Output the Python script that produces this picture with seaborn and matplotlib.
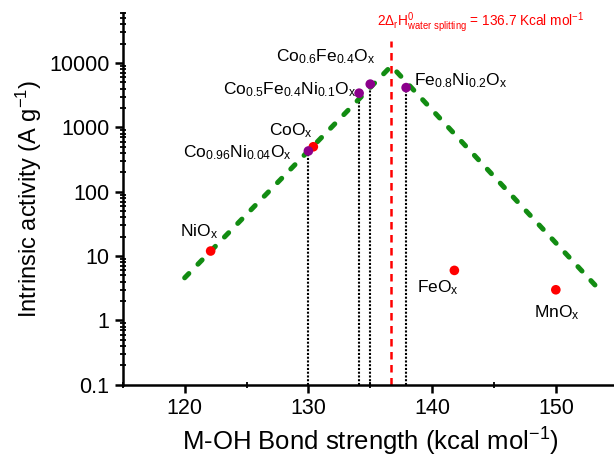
import numpy as np
import pandas as pd
import seaborn as sns
import matplotlib
matplotlib.use("Agg")
import matplotlib.pyplot as plt

# catalysts: M-OH bond strength (kcal/mol) vs intrinsic activity (A/g)
names = ["NiOx", "CoOx", "FeOx", "MnOx",
         "Co0.96Ni0.04Ox", "Co0.5Fe0.4Ni0.1Ox", "Co0.6Fe0.4Ox", "Fe0.8Ni0.2Ox"]
bond_strength = [122.1, 130.4, 141.8, 150.0, 130.0, 134.1, 135.0, 137.9]
activity = [12, 500, 6.0, 3.0, 430, 3400, 4700, 4150]
kind = ["single", "single", "single", "single", "mixed", "mixed", "mixed", "mixed"]
has_dropline = [False, False, False, False, True, True, True, True]

labels = {
    "NiOx": r"NiO$_x$",
    "CoOx": r"CoO$_x$",
    "FeOx": r"FeO$_x$",
    "MnOx": r"MnO$_x$",
    "Co0.96Ni0.04Ox": r"Co$_{0.96}$Ni$_{0.04}$O$_x$",
    "Co0.5Fe0.4Ni0.1Ox": r"Co$_{0.5}$Fe$_{0.4}$Ni$_{0.1}$O$_x$",
    "Co0.6Fe0.4Ox": r"Co$_{0.6}$Fe$_{0.4}$O$_x$",
    "Fe0.8Ni0.2Ox": r"Fe$_{0.8}$Ni$_{0.2}$O$_x$",
}
# label anchor positions (x, y, ha)
label_pos = {
    "NiOx": (121.2, 24, "center"),
    "CoOx": (128.6, 900, "center"),
    "FeOx": (140.5, 3.2, "center"),
    "MnOx": (150.1, 1.3, "center"),
    "Co0.96Ni0.04Ox": (124.3, 400, "center"),
    "Co0.5Fe0.4Ni0.1Ox": (128.5, 3800, "center"),
    "Co0.6Fe0.4Ox": (131.4, 12400, "center"),
    "Fe0.8Ni0.2Ox": (138.5, 5400, "left"),
}

# volcano line
volcano_x = [120.0, 136.7, 153.2]
volcano_y = [4.6, 9000, 3.5]

water_split = 136.7

df = pd.DataFrame({"name": names, "x": bond_strength, "y": activity, "kind": kind})

sns.set_style("ticks")
plt.rcParams["font.family"] = ["Liberation Sans", "DejaVu Sans"]
plt.rcParams["mathtext.fontset"] = "custom"
plt.rcParams["mathtext.rm"] = "Liberation Sans"
plt.rcParams["mathtext.it"] = "Liberation Sans:italic"
plt.rcParams["mathtext.default"] = "regular"
for key in ["text.color", "axes.labelcolor", "xtick.color", "ytick.color", "axes.edgecolor"]:
    plt.rcParams[key] = "black"

fig = plt.figure(figsize=(6.14, 4.62), dpi=100)
ax = fig.add_axes([0.2, 0.167, 0.806, 0.805])

ax.plot(volcano_x, volcano_y, color="#128c12", lw=3.6, linestyle=(0, (1.2, 2.6)),
        dash_capstyle="round", zorder=2)

ax.vlines(water_split, 0.1, 2.2e4, colors="red", linestyles=(0, (3, 2.2)), lw=1.8, zorder=1)

drop = df[has_dropline]
ax.vlines(drop["x"], 0.1, drop["y"], colors="black", linestyles=(0, (1, 0.8)), lw=1.5, zorder=1)

sns.scatterplot(data=df, x="x", y="y", hue="kind",
                palette={"single": "#ff0000", "mixed": "#8b008b"},
                s=48, edgecolor="none", legend=False, ax=ax, zorder=3)

for n in names:
    lx, ly, ha = label_pos[n]
    ax.text(lx, ly, labels[n], fontsize=12.5, ha=ha, va="center")

ax.text(143.9, 42000,
        r"2$\Delta_r$H$^0_{water\ splitting}$ = 136.7 Kcal mol$^{-1}$",
        color="red", fontsize=9.8, ha="center", va="center")

ax.set_yscale("log")
ax.set_xlim(115, 155)
ax.set_ylim(0.1, 60000)
ax.set_xticks([120, 130, 140, 150])
ax.set_xticks([115, 125, 135, 145, 155], minor=True)
ax.set_yticks([0.1, 1, 10, 100, 1000, 10000])
ax.set_yticklabels(["0.1", "1", "10", "100", "1000", "10000"])
ax.yaxis.set_minor_locator(matplotlib.ticker.LogLocator(base=10, subs=np.arange(2, 10)))
ax.yaxis.set_minor_formatter(matplotlib.ticker.NullFormatter())

ax.tick_params(axis="both", which="major", labelsize=15.5, direction="out", length=6, width=1.8)
ax.tick_params(axis="both", which="minor", direction="inout", length=5, width=1.3)

sns.despine(ax=ax)
for sp in ["left", "bottom"]:
    ax.spines[sp].set_linewidth(1.8)

ax.set_xlabel(r"M-OH Bond strength (kcal mol$^{-1}$)", fontsize=18.5, labelpad=5)
ax.set_ylabel(r"Intrinsic activity (A g$^{-1}$)", fontsize=17, labelpad=4)

fig.savefig("out.png", dpi=100)
